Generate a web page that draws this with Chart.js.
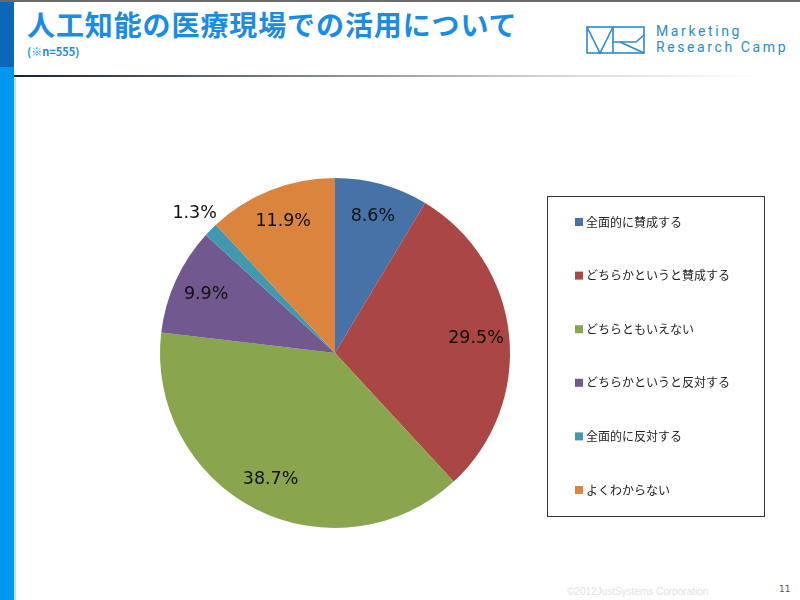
<!DOCTYPE html>
<html lang="ja">
<head>
    <meta charset="UTF-8">
    <script src="https://cdn.jsdelivr.net/npm/chart.js@4.4.0/dist/chart.umd.min.js"></script>
    <title>人工知能の医療現場での活用について</title>
    <style>
        body { margin: 0; width: 800px; height: 600px; position: relative; overflow: hidden; background: #fff; font-family: "Noto Sans CJK JP", sans-serif; }
        #topline { position: absolute; left: 0; top: 0; width: 800px; height: 2px; background: #6a6a6a; }
        #stripeTop { position: absolute; left: 0; top: 2px; width: 14px; height: 65px; background: #0a68b6; }
        #stripe { position: absolute; left: 0; top: 67px; width: 14px; height: 533px; background: #0098ef; }
        #stripeEdge { position: absolute; left: 14px; top: 78px; width: 2px; height: 522px; background: #b8e2fb; }
        #sep { position: absolute; left: 14px; top: 75px; width: 786px; height: 2px;
               background: linear-gradient(to right, #15223d 0%, #7c8088 35%, #d8d8d8 70%, #ffffff 95%); }
        #title { position: absolute; left: 27px; top: 4px; font-size: 28px; font-weight: bold; color: #1b8ce4; letter-spacing: 0.9px; white-space: nowrap; }
        #sub { position: absolute; left: 27px; top: 43px; font-size: 11px; font-weight: bold; color: #1b8ce4; }
        #logo { position: absolute; left: 586px; top: 25px; }
        #brand { position: absolute; left: 656px; top: 23px; font-family: Roboto, sans-serif; font-size: 14px; line-height: 16px; color: #2a8ad0; letter-spacing: 2.6px; }
        #copy { position: absolute; left: 567px; top: 586px; font-family: "Liberation Sans", sans-serif; font-size: 10px; color: #e2e2e2; }
        #page { position: absolute; left: 779px; top: 584px; font-family: "DejaVu Sans", sans-serif; font-size: 9px; color: #555; }
        #chart { position: absolute; left: 0; top: 0; }
    </style>
</head>
<body>
    <div id="topline"></div>
    <div id="stripeTop"></div>
    <div id="stripe"></div>
    <div id="stripeEdge"></div>
    <div id="sep"></div>
    <div id="title">人工知能の医療現場での活用について</div>
    <div id="sub">(※n=555)</div>
    <svg id="logo" width="62" height="32" viewBox="0 0 62 32">
        <g fill="none" stroke="#2a8ad0" stroke-width="1.6">
            <rect x="1" y="2" width="57" height="26"/>
            <polyline points="1,2 14,28 27,2"/>
            <line x1="27" y1="2" x2="27" y2="28"/>
            <polyline points="27,17 50,17 58,10"/>
            <line x1="34" y1="17" x2="58" y2="28"/>
        </g>
    </svg>
    <div id="brand">Marketing<br>Research Camp</div>
    <div id="copy">©2012JustSystems Corporation</div>
    <div id="page">11</div>

    <canvas id="chart" width="800" height="600"></canvas>
    <script>
        // answer categories and share (%)
        const categories = ['全面的に賛成する', 'どちらかというと賛成する', 'どちらともいえない', 'どちらかというと反対する', '全面的に反対する', 'よくわからない'];
        const shares = [8.6, 29.5, 38.7, 9.9, 1.3, 11.9];
        const colors = ['#4672a8', '#aa4643', '#89a54e', '#71588f', '#4198af', '#db843d'];

        // percent labels on the slices
        const sliceLabels = {
            id: 'sliceLabels',
            afterDatasetsDraw(chart) {
                const ctx = chart.ctx;
                const meta = chart.getDatasetMeta(0);
                ctx.save();
                ctx.font = '17.5px "DejaVu Sans", Verdana, sans-serif';
                ctx.fillStyle = '#111';
                ctx.textAlign = 'center';
                ctx.textBaseline = 'middle';
                meta.data.forEach((arc, i) => {
                    const p = arc.getProps(['x', 'y', 'startAngle', 'endAngle', 'outerRadius']);
                    const mid = (p.startAngle + p.endAngle) / 2;
                    // tiny slices get their label outside
                    const f = shares[i] < 3 ? 1.13 : 0.81;
                    const x = p.x + Math.cos(mid) * p.outerRadius * f;
                    const y = p.y + Math.sin(mid) * p.outerRadius * f;
                    ctx.fillText(shares[i].toFixed(1) + '%', x, y);
                });
                ctx.restore();
            }
        };

        // boxed legend on the right
        const boxLegend = {
            id: 'boxLegend',
            afterDraw(chart) {
                const ctx = chart.ctx;
                ctx.save();
                ctx.strokeStyle = '#333';
                ctx.lineWidth = 1;
                ctx.strokeRect(547.5, 196.5, 217, 320);
                ctx.font = '12px "Noto Sans CJK JP", sans-serif';
                ctx.textBaseline = 'middle';
                ctx.textAlign = 'left';
                categories.forEach((c, i) => {
                    const y = 222 + i * 53.6;
                    ctx.fillStyle = colors[i];
                    ctx.fillRect(575, y - 4, 8, 8);
                    ctx.fillStyle = '#222';
                    ctx.fillText(c, 586, y);
                });
                ctx.restore();
            }
        };

        const ctx = document.getElementById('chart').getContext('2d');
        const myChart = new Chart(ctx, {
            type: 'pie',
            data: {
                labels: categories,
                datasets: [{
                    data: shares,
                    backgroundColor: colors,
                    borderWidth: 0
                }]
            },
            options: {
                responsive: false,
                animation: false,
                layout: { padding: { left: 160, right: 290, top: 178, bottom: 72 } },
                plugins: {
                    legend: { display: false },
                    tooltip: { enabled: false }
                }
            },
            plugins: [sliceLabels, boxLegend]
        });
    </script>
</body>
</html>
